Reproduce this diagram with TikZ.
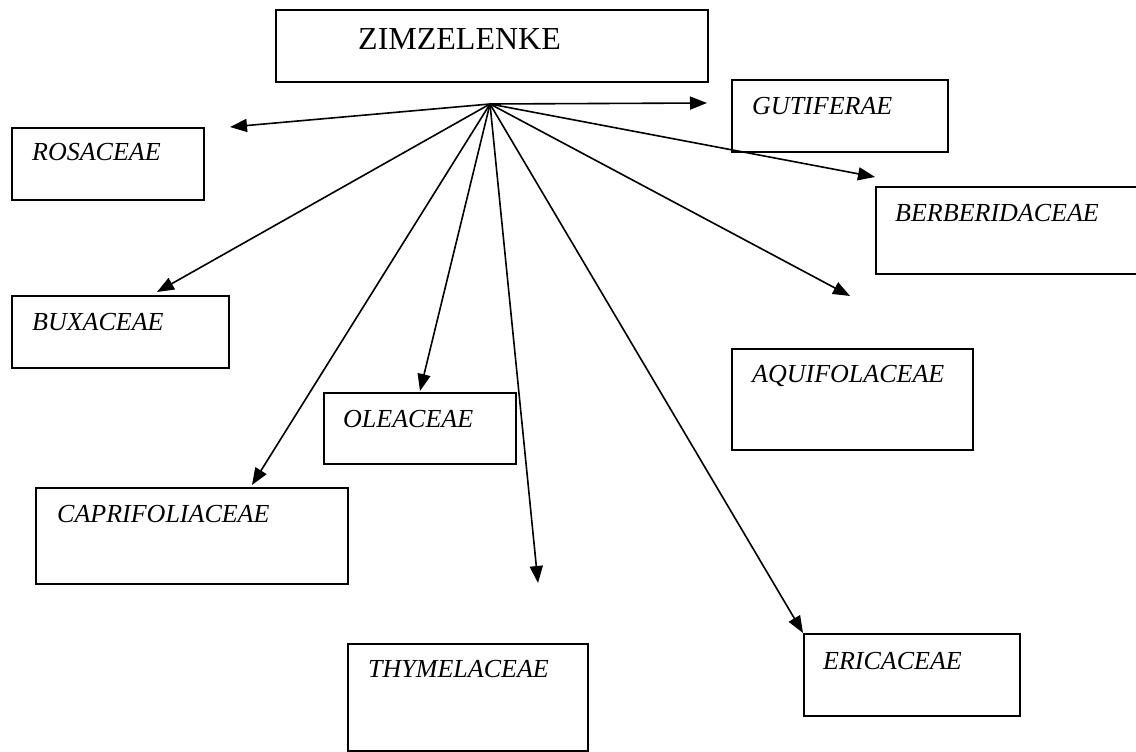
\documentclass[tikz,border=0pt]{standalone}
\usepackage{fontspec}
\setmainfont{Liberation Serif}
\usetikzlibrary{arrows.meta}
\begin{document}
\begin{tikzpicture}[x=1pt,y=-1pt,
  box/.style={draw, line width=2pt, inner sep=0pt, anchor=north west},
  lbl/.style={anchor=north west, inner sep=0pt, font=\rmfamily\fontsize{26}{30}\selectfont\itshape},
  conn/.style={line width=1.6pt, -{Triangle[length=17pt,width=13pt]}}]
\useasboundingbox (0,0) rectangle (1136,752);
% boxes
\node[box, minimum width=432, minimum height=72,
  label={[anchor=north west, inner sep=0pt, xshift=83pt, yshift=-19pt, font=\rmfamily\fontsize{32}{36}\selectfont]north west:ZIMZELENKE}] (zim) at (275,9) {};
\node[box, minimum width=216, minimum height=72,
  label={[lbl, xshift=21pt, yshift=-18pt]north west:GUTIFERAE}] (gut) at (731,79) {};
\node[box, minimum width=192, minimum height=72,
  label={[lbl, xshift=21pt, yshift=-16pt]north west:ROSACEAE}] (ros) at (11,127) {};
\node[box, minimum width=268, minimum height=87,
  label={[lbl, xshift=20pt, yshift=-18pt]north west:BERBERIDACEAE}] (ber) at (875,186) {};
\node[box, minimum width=217, minimum height=72,
  label={[lbl, xshift=21pt, yshift=-18pt]north west:BUXACEAE}] (bux) at (11,295) {};
\node[box, minimum width=241, minimum height=101,
  label={[lbl, xshift=21pt, yshift=-17pt]north west:AQUIFOLACEAE}] (aqu) at (731,348) {};
\node[box, minimum width=192, minimum height=71,
  label={[lbl, xshift=20pt, yshift=-18pt]north west:OLEACEAE}] (ole) at (323,392) {};
\node[box, minimum width=312, minimum height=96,
  label={[lbl, xshift=22pt, yshift=-18pt]north west:CAPRIFOLIACEAE}] (cap) at (35,487) {};
\node[box, minimum width=240, minimum height=107,
  label={[lbl, xshift=21pt, yshift=-17pt]north west:THYMELACEAE}] (thy) at (347,643) {};
\node[box, minimum width=216, minimum height=82,
  label={[lbl, xshift=20pt, yshift=-19pt]north west:ERICACEAE}] (eri) at (803,633) {};
% hub and arrow tips
\coordinate (hub) at (490,104);
\coordinate (tgut) at (707,103);
\coordinate (tros) at (230,127);
\coordinate (tber) at (875,177);
\coordinate (tbux) at (157,292);
\coordinate (taqu) at (850,296);
\coordinate (tole) at (420,391);
\coordinate (tcap) at (252,485);
\coordinate (tthy) at (538,583);
% connectors
\draw[conn] (hub) -- (tgut);
\draw[conn] (hub) -- (tros);
\draw[conn] (hub) -- (tber);
\draw[conn] (hub) -- (tbux);
\draw[conn] (hub) -- (taqu);
\draw[conn] (hub) -- (tole);
\draw[conn] (hub) -- (tcap);
\draw[conn] (hub) -- (tthy);
\draw[conn] (hub) -- (eri.north west);
\end{tikzpicture}
\end{document}
